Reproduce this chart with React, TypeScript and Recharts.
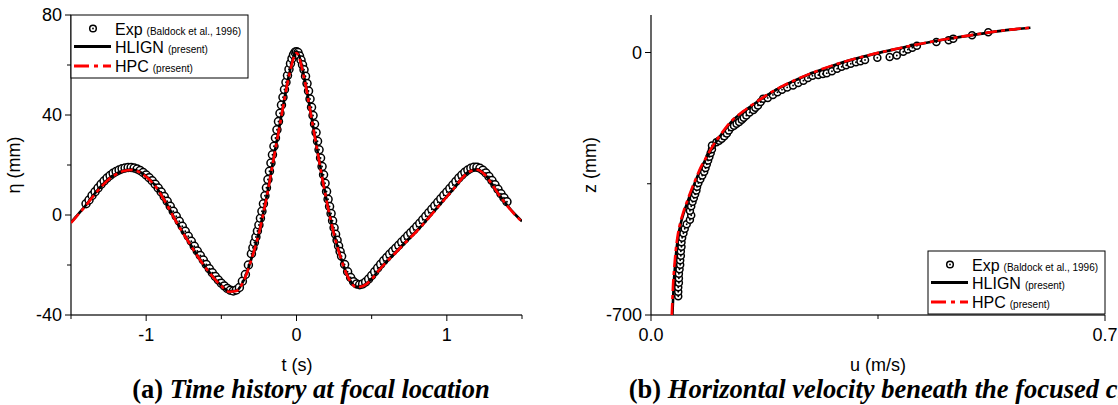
import React from "react";
import { ComposedChart, Line, Scatter, XAxis, YAxis } from "recharts";

const SANS = "'Liberation Sans', Arial, Helvetica, sans-serif";
const SERIF = "'Liberation Serif', 'Times New Roman', Times, serif";
const RED = "#ff0000";
const DASH = "12 4 4 4";

// (a) time history at focal location
const tLine = [
  -1.5, -1.45, -1.4, -1.35, -1.3, -1.25, -1.2, -1.15, -1.1, -1.05,
  -1, -0.95, -0.9, -0.85, -0.8, -0.75, -0.7, -0.65, -0.6, -0.55,
  -0.5, -0.45, -0.4, -0.35, -0.3, -0.25, -0.2, -0.15, -0.1, -0.05,
  0, 0.05, 0.1, 0.15, 0.2, 0.25, 0.3, 0.35, 0.4, 0.45,
  0.5, 0.55, 0.6, 0.65, 0.7, 0.75, 0.8, 0.85, 0.9, 0.95,
  1, 1.05, 1.1, 1.15, 1.2, 1.25, 1.3, 1.35, 1.4, 1.45, 1.5,
];
const etaHLIGN = [
  -3, 0.5, 4, 8, 11.5, 14.5, 16.5, 17.8, 18.2, 17.5,
  15.5, 12.5, 8.2, 3, -2.5, -7.5, -12.3, -17, -21.3, -25,
  -28.2, -30.5, -30.3, -26, -17.5, -7, 7, 23.5, 40, 56,
  65.5, 55.5, 39.1, 22.1, 6, -7.5, -18, -25.5, -28.7, -28,
  -25.5, -21.8, -18.5, -15.5, -12.3, -9.3, -6.3, -3, 0.5, 4,
  7.5, 11, 14.8, 17.5, 18.3, 16.5, 12.5, 8, 4, 0.5, -2.5,
];
const etaHPC = [
  -3.2, 0.3, 3.8, 7.7, 11.2, 14.2, 16.3, 17.6, 18, 17.3,
  15.3, 12.3, 8, 2.8, -2.7, -7.7, -12.5, -17.2, -21.5, -25.2,
  -28.4, -30.7, -30.4, -26.2, -17.8, -7.3, 6.6, 23.1, 39.6, 55.6,
  64.8, 55.1, 38.7, 21.8, 5.7, -7.8, -18.2, -25.7, -28.9, -28.2,
  -25.7, -22, -18.7, -15.7, -12.5, -9.5, -6.5, -3.2, 0.3, 3.8,
  7.3, 10.8, 14.6, 17.3, 18.1, 16.3, 12.3, 7.8, 3.8, 0.3, -2.7,
];
const tExp = [
  -1.4, -1.38, -1.36, -1.34, -1.32, -1.3, -1.28, -1.26, -1.24, -1.22,
  -1.2, -1.18, -1.16, -1.14, -1.12, -1.1, -1.08, -1.06, -1.04, -1.02,
  -1, -0.98, -0.96, -0.94, -0.92, -0.9, -0.88, -0.86, -0.84, -0.82,
  -0.8, -0.78, -0.76, -0.74, -0.72, -0.7, -0.68, -0.66, -0.64, -0.62,
  -0.6, -0.58, -0.56, -0.54, -0.52, -0.5, -0.48, -0.46, -0.44, -0.42,
  -0.4, -0.38, -0.36, -0.34, -0.32, -0.3,
  -0.29, -0.28, -0.27, -0.26, -0.25, -0.24, -0.23, -0.22, -0.21, -0.2,
  -0.19, -0.18, -0.17, -0.16, -0.15, -0.14, -0.13, -0.12, -0.11, -0.1,
  -0.09, -0.08, -0.07, -0.06, -0.05, -0.04, -0.03, -0.02, -0.01, 0,
  0.01, 0.02, 0.03, 0.04, 0.05, 0.06, 0.07, 0.08, 0.09, 0.1,
  0.11, 0.12, 0.13, 0.14, 0.15, 0.16, 0.17, 0.18, 0.19, 0.2,
  0.21, 0.22, 0.23, 0.24, 0.25, 0.26, 0.27, 0.28, 0.29,
  0.3, 0.32, 0.34, 0.36, 0.38, 0.4, 0.42, 0.44, 0.46, 0.48,
  0.5, 0.52, 0.54, 0.56, 0.58, 0.6, 0.62, 0.64, 0.66, 0.68,
  0.7, 0.72, 0.74, 0.76, 0.78, 0.8, 0.82, 0.84, 0.86, 0.88,
  0.9, 0.92, 0.94, 0.96, 0.98, 1, 1.02, 1.04, 1.06, 1.08,
  1.1, 1.12, 1.14, 1.16, 1.18, 1.2, 1.22, 1.24, 1.26, 1.28,
  1.3, 1.32, 1.34, 1.36, 1.38, 1.4,
];
const etaExp = [
  4.5, 6, 7.8, 9.3, 10.8, 12.3, 13.6, 14.8, 15.8, 16.7,
  17.4, 18, 18.5, 18.8, 19, 19, 18.8, 18.4, 17.8, 17,
  16, 14.9, 13.7, 12.3, 10.8, 9.2, 7.4, 5.5, 3.5, 1.5,
  -0.5, -2.5, -4.5, -6.5, -8.5, -10.5, -12.5, -14.4, -16.2, -18,
  -19.8, -21.5, -23.1, -24.6, -26, -27.3, -28.4, -29.4, -30.1, -30.4,
  -30, -29, -26.5, -23.8, -20, -15.5,
  -13.1, -11, -8.8, -6.4, -4, -1.3, 1.5, 4.5, 7.7, 10.9,
  14.2, 17.5, 20.8, 24.1, 27.5, 30.8, 34.1, 37.4, 40.7, 44,
  47.1, 50.2, 53.1, 55.8, 58.3, 60.6, 62.6, 64.1, 65.1, 65.3,
  65, 63.6, 62, 60.1, 58.1, 55.5, 52.6, 49.6, 46.4, 43.1,
  39.8, 36.4, 33, 29.5, 26.1, 22.8, 19.4, 16.1, 12.7, 9.4,
  6.3, 3.4, 0.6, -2.3, -5.1, -7.7, -10.1, -12.4, -14.6,
  -16.5, -19.8, -22.7, -25, -26.7, -27.6, -27.9, -27.6, -26.8, -25.6,
  -24.2, -22.7, -21.2, -19.7, -18.3, -17, -15.7, -14.5, -13.3, -12.1,
  -10.8, -9.6, -8.3, -7.1, -5.9, -4.6, -3.3, -1.9, -0.5, 0.9,
  2.3, 3.7, 5.1, 6.5, 7.9, 9.2, 10.6, 12, 13.4, 14.8,
  16, 17.1, 18, 18.7, 19.1, 19.1, 18.7, 17.9, 16.8, 15.4,
  13.8, 12.1, 10.3, 8.5, 6.9, 5.3,
];
const tTicks = [-1.5, -1, -0.5, 0, 0.5, 1, 1.5];
const tLabels: Record<string, string> = { "-1": "-1", "0": "0", "1": "1" };
const etaTicks = [-40, -20, 0, 20, 40, 60, 80];
const etaLabels: Record<string, string> = { "-40": "-40", "0": "0", "40": "40", "80": "80" };

// (b) horizontal velocity beneath the focused crest
const zLine = [
  -700, -660, -620, -570, -530, -490, -455, -425, -395, -367,
  -337, -305, -277, -250, -215, -181, -157, -136, -113, -93,
  -76, -54, -35, -19, -3, 10, 22, 34, 45, 53, 61, 66,
];
const uHLIGN = [
  0.033, 0.034, 0.035, 0.037, 0.039, 0.042, 0.046, 0.051, 0.057, 0.063,
  0.07, 0.078, 0.087, 0.096, 0.11, 0.126, 0.143, 0.16, 0.18, 0.2,
  0.22, 0.25, 0.28, 0.31, 0.346, 0.38, 0.413, 0.45, 0.49, 0.52, 0.555, 0.585,
];
const uHPC = [
  0.032, 0.033, 0.034, 0.036, 0.038, 0.041, 0.045, 0.05, 0.056, 0.062,
  0.069, 0.077, 0.086, 0.095, 0.109, 0.125, 0.142, 0.159, 0.179, 0.199,
  0.219, 0.249, 0.279, 0.309, 0.345, 0.379, 0.412, 0.449, 0.489, 0.519, 0.554, 0.585,
];
const uExp = [
  0.042, 0.042, 0.042, 0.043, 0.043, 0.043, 0.044, 0.045, 0.045, 0.046,
  0.046, 0.047, 0.047, 0.048, 0.05, 0.052, 0.055, 0.06, 0.062, 0.06,
  0.062, 0.064,
  0.066, 0.068, 0.07, 0.071, 0.073, 0.076, 0.079, 0.082, 0.084, 0.086,
  0.088, 0.09, 0.092, 0.094, 0.094,
  0.101, 0.105, 0.109, 0.113, 0.117, 0.12, 0.124, 0.128, 0.132, 0.136,
  0.14, 0.143, 0.147, 0.152, 0.158, 0.161, 0.165, 0.169, 0.173,
  0.18, 0.188, 0.195, 0.202, 0.21, 0.219, 0.227, 0.235, 0.242, 0.249,
  0.258, 0.265, 0.271, 0.279, 0.287, 0.294, 0.301, 0.308, 0.316, 0.323,
  0.33, 0.349, 0.368, 0.379, 0.389, 0.396, 0.403, 0.41, 0.44, 0.459,
  0.466, 0.495, 0.52,
];
const zExp = [
  -650, -638, -626, -614, -602, -590, -578, -566, -554, -542,
  -530, -518, -506, -494, -482, -470, -458, -446, -434, -422,
  -410, -398,
  -388, -378, -368, -358, -348, -338, -328, -318, -308, -298,
  -288, -278, -268, -258, -248,
  -239, -235, -230, -223, -216, -208, -199, -195, -190, -185,
  -179, -174, -168, -160, -153, -147, -141, -132, -123,
  -121, -113, -106, -99, -93, -88, -81, -75, -68, -62,
  -60, -57, -55, -50, -43, -38, -34, -30, -26, -23,
  -20, -14, -12, -8, 2, 8, 13, 18, 28, 33,
  37, 46, 54,
];
const uTicks = [0, 0.35, 0.7];
const uLabels: Record<string, string> = { "0": "0.0", "0.7": "0.7" };
const zTicks = [-700, -350, 0];
const zLabels: Record<string, string> = { "-700": "-700", "0": "0" };

const hlignA = tLine.map((x, i) => ({ x, y: etaHLIGN[i] }));
const hpcA = tLine.map((x, i) => ({ x, y: etaHPC[i] }));
const expA = tExp.map((x, i) => ({ x, y: etaExp[i] }));
const hlignB = zLine.map((y, i) => ({ x: uHLIGN[i], y }));
const hpcB = zLine.map((y, i) => ({ x: uHPC[i], y }));
const expB = zExp.map((y, i) => ({ x: uExp[i], y }));

const openDot = (r: number) => (p: any) => (
  <g>
    <circle cx={p.cx} cy={p.cy} r={r} fill="#fff" stroke="#000" strokeWidth={1.5} />
    <circle cx={p.cx} cy={p.cy} r={0.9} fill="#000" />
  </g>
);

const xTick = (labels: Record<string, string>) => (p: any) => {
  const lab = labels[String(p.payload.value)];
  return (
    <g>
      <line x1={p.x} x2={p.x} y1={p.y} y2={p.y + (lab ? 6 : 4)} stroke="#000" />
      {lab && (
        <text x={p.x} y={p.y + 26} textAnchor="middle" fontSize={18} fontFamily={SANS} fill="#000">
          {lab}
        </text>
      )}
    </g>
  );
};

const yTick = (labels: Record<string, string>) => (p: any) => {
  const lab = labels[String(p.payload.value)];
  return (
    <g>
      <line x1={p.x - (lab ? 6 : 4)} x2={p.x} y1={p.y} y2={p.y} stroke="#000" />
      {lab && (
        <text x={p.x - 9} y={p.y + 6.4} textAnchor="end" fontSize={18} fontFamily={SANS} fill="#000">
          {lab}
        </text>
      )}
    </g>
  );
};

// legend box, drawn at (x0, y0)
const LegendBox = ({ x0, y0 }: { x0: number; y0: number }) => (
  <g fontFamily={SANS} fill="#000">
    <rect x={x0} y={y0} width={177} height={63} fill="#fff" stroke="#000" strokeWidth={1} />
    <circle cx={x0 + 22} cy={y0 + 13.5} r={3.3} fill="#fff" stroke="#000" strokeWidth={1.5} />
    <circle cx={x0 + 22} cy={y0 + 13.5} r={0.9} fill="#000" />
    <text x={x0 + 44} y={y0 + 19.5} fontSize={16}>
      Exp<tspan fontSize={10} dx={4}>(Baldock et al., 1996)</tspan>
    </text>
    <line x1={x0 + 3} x2={x0 + 40} y1={y0 + 31.5} y2={y0 + 31.5} stroke="#000" strokeWidth={3} />
    <text x={x0 + 44} y={y0 + 37.5} fontSize={16}>
      HLIGN<tspan fontSize={10} dx={4}>(present)</tspan>
    </text>
    <line x1={x0 + 3} x2={x0 + 40} y1={y0 + 51} y2={y0 + 51} stroke={RED} strokeWidth={3} strokeDasharray="15 5 4 5" />
    <text x={x0 + 44} y={y0 + 57} fontSize={16}>
      HPC<tspan fontSize={10} dx={4}>(present)</tspan>
    </text>
  </g>
);

// axes shared by both layers; the top layer hides its axis marks
const axes = (p: any, visible: boolean) => [
  <XAxis
    key="x"
    type="number"
    dataKey="x"
    domain={p.xDomain}
    ticks={p.xTicks}
    interval={0}
    allowDataOverflow
    height={30}
    tickSize={0}
    tickMargin={0}
    tickLine={false}
    axisLine={visible ? { stroke: "#333", strokeWidth: 1.3 } : false}
    tick={visible ? xTick(p.xLabs) : false}
  />,
  <YAxis
    key="y"
    type="number"
    dataKey="y"
    domain={p.yDomain}
    ticks={p.yTicks}
    interval={0}
    allowDataOverflow
    width={p.yWidth}
    tickSize={0}
    tickMargin={0}
    tickLine={false}
    axisLine={visible ? { stroke: "#000", strokeWidth: 1.2 } : false}
    tick={visible ? yTick(p.yLabs) : false}
  />,
];

const Panel = (p: any) => {
  const margin = { top: 15, right: p.right, bottom: 60, left: 0 };
  return (
    <div style={{ position: "relative", width: p.width, height: 405 }}>
      <div style={{ position: "absolute", left: 0, top: 0 }}>
        <ComposedChart width={p.width} height={405} margin={margin}>
          {axes(p, true)}
          <Scatter data={p.exp} shape={openDot(p.r)} isAnimationActive={false} />
        </ComposedChart>
      </div>
      <div style={{ position: "absolute", left: 0, top: 0 }}>
        <ComposedChart width={p.width} height={405} margin={margin}>
          {axes(p, false)}
          <Line data={p.hlign} dataKey="y" type="monotone" stroke="#000" strokeWidth={2.6} dot={false} isAnimationActive={false} />
          <Line data={p.hpc} dataKey="y" type="monotone" stroke={RED} strokeWidth={2.6} strokeDasharray={DASH} dot={false} isAnimationActive={false} />
        </ComposedChart>
      </div>
    </div>
  );
};

export default function App() {
  return (
    <div style={{ position: "absolute", left: 0, top: 0, width: 1118, height: 405, background: "#fff", overflow: "hidden" }}>
      <div style={{ position: "absolute", left: 0, top: 0 }}>
        <Panel
          width={560} yWidth={71} right={38} r={4}
          xDomain={[-1.5, 1.5]} yDomain={[-40, 80]}
          xTicks={tTicks} yTicks={etaTicks} xLabs={tLabels} yLabs={etaLabels}
          exp={expA} hlign={hlignA} hpc={hpcA}
        />
      </div>
      <div style={{ position: "absolute", left: 560, top: 0 }}>
        <Panel
          width={558} yWidth={91} right={13} r={3.5}
          xDomain={[0, 0.7]} yDomain={[-700, 100]}
          xTicks={uTicks} yTicks={zTicks} xLabs={uLabels} yLabs={zLabels}
          exp={expB} hlign={hlignB} hpc={hpcB}
        />
      </div>
      <svg width={1118} height={405} style={{ position: "absolute", left: 0, top: 0, pointerEvents: "none" }}>
        <LegendBox x0={71} y0={15} />
        <LegendBox x0={928} y0={251} />
        <g fontFamily={SANS} fontSize={18} fill="#000" textAnchor="middle">
          <text x={14} y={165} dominantBaseline="central" transform="rotate(-90 14 165)">η (mm)</text>
          <text x={590} y={165} dominantBaseline="central" transform="rotate(-90 590 165)">z (mm)</text>
          <text x={297} y={365} dominantBaseline="central">t (s)</text>
          <text x={878} y={365} dominantBaseline="central">u (m/s)</text>
        </g>
        <g fontFamily={SERIF} fontSize={26.5} fontWeight="bold" fill="#000" textAnchor="middle">
          <text x={311} y={398}>
            (a) <tspan fontStyle="italic">Time history at focal location</tspan>
          </text>
          <text x={893} y={398}>
            (b) <tspan fontStyle="italic">Horizontal velocity beneath the focused crest</tspan>
          </text>
        </g>
      </svg>
    </div>
  );
}
